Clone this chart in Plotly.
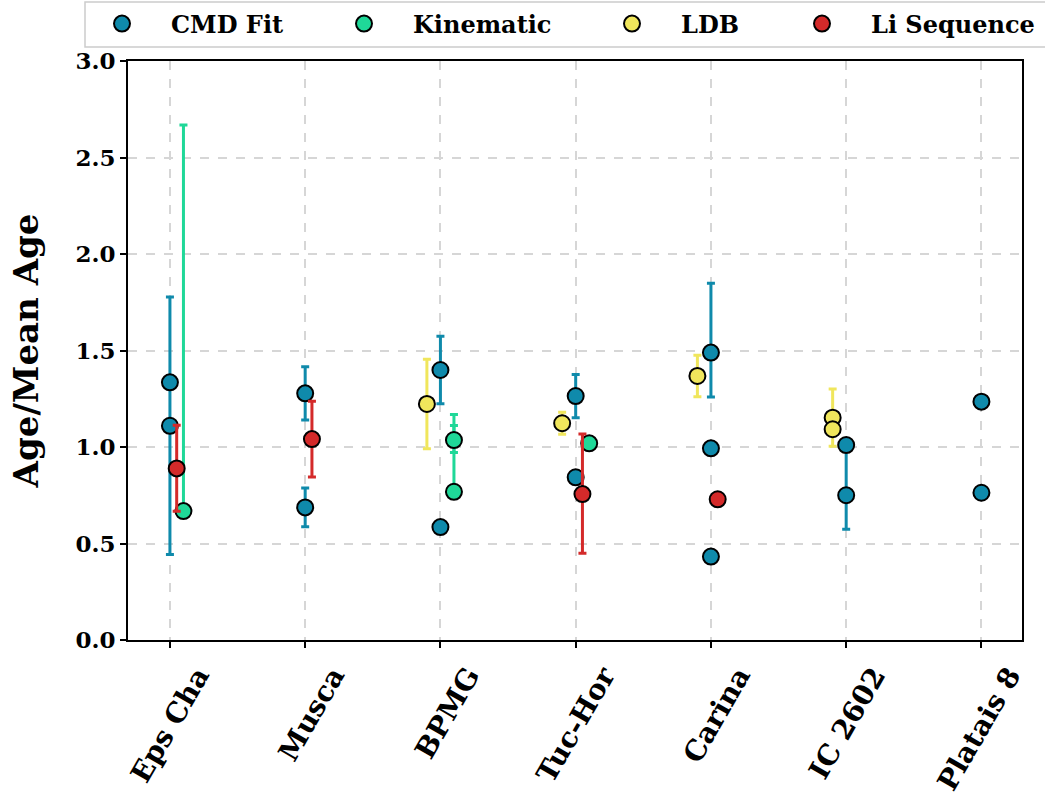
import plotly.graph_objects as go

categories = ["Eps Cha", "Musca", "BPMG", "Tuc-Hor", "Carina", "IC 2602", "Platais 8"]

# CMD Fit
cmd_group = ["Eps Cha", "Eps Cha", "Musca", "Musca", "BPMG", "BPMG", "Tuc-Hor", "Tuc-Hor",
             "Carina", "Carina", "Carina", "IC 2602", "IC 2602", "Platais 8", "Platais 8"]
cmd_val = [1.335, 1.11, 1.278, 0.687, 1.399, 0.585, 1.264, 0.843,
           1.489, 0.993, 0.432, 1.010, 0.750, 1.235, 0.763]
cmd_errp = [0, 0.667, 0.138, 0.10, 0.175, 0, 0.112, 0,
            0.36, 0, 0, 0, 0.25, 0, 0]
cmd_errm = [0, 0.667, 0.138, 0.10, 0.175, 0, 0.112, 0,
            0.23, 0, 0, 0, 0.176, 0, 0]

# Kinematic
kin_group = ["Eps Cha", "BPMG", "BPMG", "Tuc-Hor"]
kin_val = [0.668, 1.036, 0.768, 1.019]
kin_errp = [2.0, 0.075, 0.40, 0]
kin_errm = [0, 0.065, 0, 0]

# LDB
ldb_group = ["BPMG", "Tuc-Hor", "Carina", "IC 2602", "IC 2602"]
ldb_val = [1.223, 1.123, 1.368, 1.152, 1.092]
ldb_errp = [0.232, 0.057, 0.107, 0.148, 0]
ldb_errm = [0.232, 0.057, 0.107, 0.148, 0]

# Li Sequence
li_group = ["Eps Cha", "Musca", "Tuc-Hor", "Carina"]
li_val = [0.889, 1.041, 0.756, 0.729]
li_errp = [0.224, 0.196, 0.311, 0]
li_errm = [0.222, 0.196, 0.307, 0]

y_ticks = [0.0, 0.5, 1.0, 1.5, 2.0, 2.5, 3.0]
y_ticktext = ["0.0", "0.5", "1.0", "1.5", "2.0", "2.5", "3.0"]

FONT = "DejaVu Serif"
W, H = 1045, 797
ML, MR, MT, MB = 128, 23, 61, 157
PW, PH = W - ML - MR, H - MT - MB


def px2x(px):
    return (px - ML) / PW


def px2y(py):
    return (H - MB - py) / PH


series = [
    ("CMD Fit", "#0f8aab", cmd_group, cmd_val, cmd_errp, cmd_errm, 0.0, 122),
    ("Kinematic", "#1fd898", kin_group, kin_val, kin_errp, kin_errm, 0.1, 364),
    ("LDB", "#f0e65c", ldb_group, ldb_val, ldb_errp, ldb_errm, -0.1, 632),
    ("Li Sequence", "#d42a2a", li_group, li_val, li_errp, li_errm, 0.05, 822),
]

fig = go.Figure()
legend_layouts = {}
for i, (name, color, grp, val, ep, em, off, mx) in enumerate(series):
    lname = "legend" if i == 0 else f"legend{i+1}"
    xs = [categories.index(g) + off for g in grp]
    fig.add_trace(go.Scatter(
        x=xs, y=val, mode="markers", name=name, legend=lname,
        marker=dict(color=color, size=16, line=dict(color="black", width=2)),
        error_y=dict(type="data", symmetric=False, array=ep, arrayminus=em,
                     color=color, thickness=3, width=4),
    ))
    legend_layouts[lname] = dict(
        xref="container", yref="container",
        x=(mx - 49) / W, y=1 - 24 / H, xanchor="left", yanchor="middle",
        bgcolor="rgba(0,0,0,0)", borderwidth=0, itemwidth=88,
        font=dict(family=FONT, size=24, color="black", weight="bold"),
        orientation="h",
    )

fig.update_layout(
    width=W, height=H,
    margin=dict(l=ML, r=MR, t=MT, b=MB, autoexpand=False),
    plot_bgcolor="white", paper_bgcolor="white",
    font=dict(family=FONT, color="black", weight="bold"),
    showlegend=True,
    **legend_layouts,
)

# legend frame
fig.add_shape(type="rect", xref="paper", yref="paper",
              x0=px2x(85), x1=px2x(1052), y0=px2y(47), y1=px2y(2),
              line=dict(color="#cccccc", width=1.5), fillcolor="rgba(255,255,255,0.8)",
              layer="below")

fig.update_xaxes(
    range=[-0.31, 6.3], tickmode="array", tickvals=list(range(len(categories))),
    ticktext=categories, tickangle=-60, ticklabelshift=28, automargin=False,
    tickfont=dict(family=FONT, size=28, color="black", weight="bold"),
    showline=True, linecolor="black", linewidth=2, mirror=True,
    ticks="outside", ticklen=6, tickwidth=2, tickcolor="black",
    showgrid=True, gridcolor="#d6d6d6", gridwidth=1.5, griddash="dash", zeroline=False,
)
fig.update_yaxes(
    range=[0, 3.0], tickmode="array", tickvals=y_ticks, ticktext=y_ticktext, automargin=False,
    tickfont=dict(family=FONT, size=23, color="black", weight="bold"),
    title=dict(text="Age/Mean Age", font=dict(family=FONT, size=34, color="black", weight="bold"),
               standoff=26),
    showline=True, linecolor="black", linewidth=2, mirror=True,
    ticks="outside", ticklen=6, tickwidth=2, tickcolor="black",
    showgrid=True, gridcolor="#d6d6d6", gridwidth=1.5, griddash="dash", zeroline=False,
)

fig.write_html("out.html")
